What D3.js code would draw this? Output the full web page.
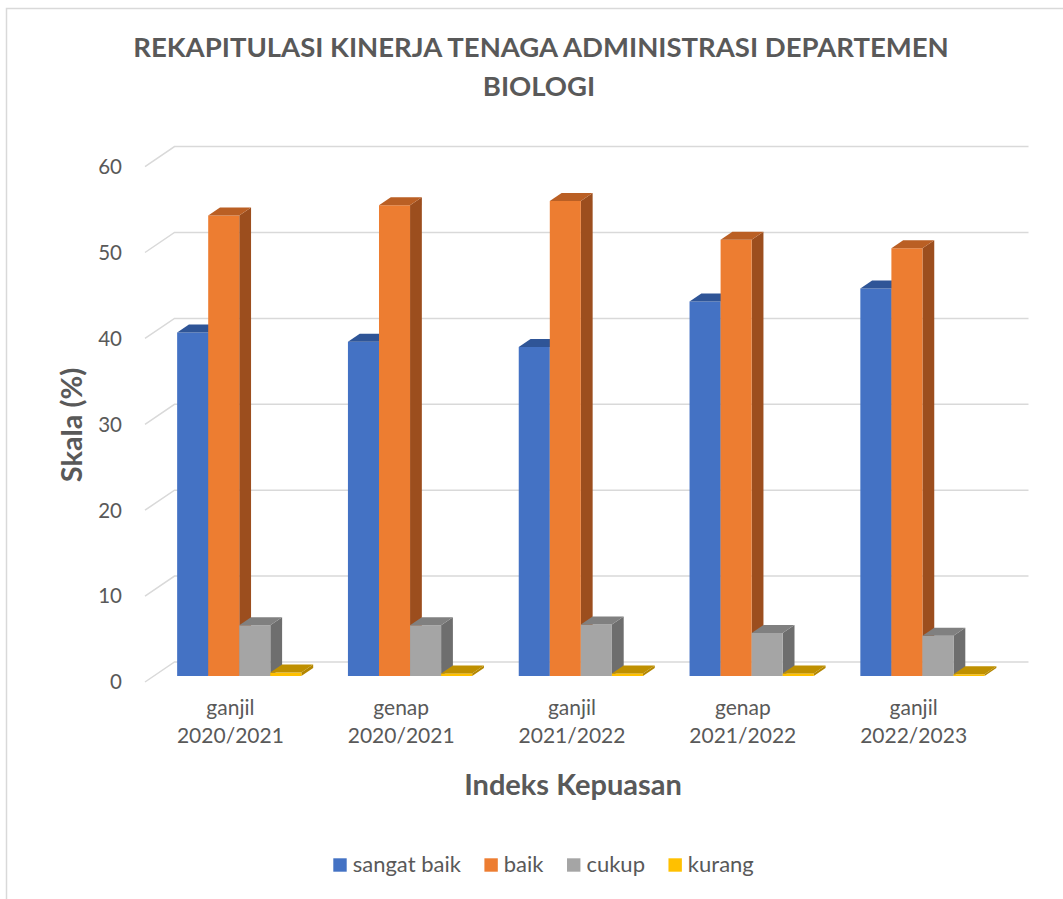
<!DOCTYPE html>
<html>
<head>
<meta charset="utf-8">
<title>Rekapitulasi Kinerja Tenaga Administrasi</title>
<script src="https://d3js.org/d3.v7.min.js"></script>
<style>
  body { margin: 0; background: #fff; }
  text { font-family: Lato, "Open Sans", sans-serif; fill: #595959; }
</style>
</head>
<body>
<svg id="chart" width="1063" height="899"></svg>
<script>
// ---- data ----
var categories = ["ganjil 2020/2021", "genap 2020/2021", "ganjil 2021/2022", "genap 2021/2022", "ganjil 2022/2023"];
var seriesNames = ["sangat baik", "baik", "cukup", "kurang"];
var sangatBaik = [40.0, 38.9, 38.3, 43.6, 45.1];
var baik = [53.6, 54.8, 55.3, 50.8, 49.8];
var cukup = [5.9, 5.9, 6.0, 5.0, 4.7];
var kurang = [0.4, 0.3, 0.3, 0.3, 0.2];
var yTicks = [0, 10, 20, 30, 40, 50, 60];

var values = [sangatBaik, baik, cukup, kurang];
var colors = ["#4472C4", "#ED7D31", "#A5A5A5", "#FFC000"];
var topColors = ["#2F5597", "#BA5F24", "#808080", "#BF9000"];
var sideColors = ["#2E4F8A", "#9C4E1E", "#6E6E6E", "#B38600"];

var svg = d3.select("#chart");

// chart border (runs off the right/bottom edge like the source)
svg.append("rect")
  .attr("x", 6.5).attr("y", 8.5)
  .attr("width", 1200).attr("height", 1000)
  .attr("fill", "#fff")
  .attr("stroke", "#d9d9d9").attr("stroke-width", 1.5);

// 3D projection: depth goes up and to the right
var depthX = 29.5, depthY = -20;
var zFront = 0.3, zBack = 0.7;

var x = d3.scaleBand().domain(categories).range([145, 999]).padding(0);
var bw = x.bandwidth() / 5.5; // gap width 150%
var xs = d3.scaleBand().domain(seriesNames)
  .range([0.75 * bw, x.bandwidth() - 0.75 * bw]).padding(0);
var y = d3.scaleLinear().domain([0, 60]).range([682, 166.6]);

function P(px, v, z) {
  return [px + z * depthX, y(v) + z * depthY];
}

// grid: back wall lines + left wall diagonals
var grid = svg.append("g");
yTicks.forEach(function(t) {
  var f = P(145, t, 0), b = P(145, t, 1), r = P(999, t, 1);
  grid.append("path")
    .attr("d", "M" + f + "L" + b + "L" + r)
    .attr("fill", "none")
    .attr("stroke", "#d9d9d9")
    .attr("stroke-width", 1.5);
  svg.append("text")
    .attr("x", 122).attr("y", y(t))
    .attr("dy", "0.36em")
    .attr("text-anchor", "end")
    .style("font-size", "20.5px")
    .text(t);
});

// bars
var bars = svg.append("g");
categories.forEach(function(c, ci) {
  seriesNames.forEach(function(s, si) {
    var v = values[si][ci];
    var x0 = x(c) + xs(s), x1 = x0 + xs.bandwidth();
    var side = [P(x1, 0, zFront), P(x1, 0, zBack), P(x1, v, zBack), P(x1, v, zFront)];
    var front = [P(x0, 0, zFront), P(x1, 0, zFront), P(x1, v, zFront), P(x0, v, zFront)];
    var top = [P(x0, v, zFront), P(x1, v, zFront), P(x1, v, zBack), P(x0, v, zBack)];
    bars.append("polygon").attr("points", side.join(" ")).attr("fill", sideColors[si]);
    bars.append("polygon").attr("points", front.join(" ")).attr("fill", colors[si]);
    bars.append("polygon").attr("points", top.join(" ")).attr("fill", topColors[si]);
  });
});

// category labels (two lines)
categories.forEach(function(c) {
  var parts = c.split(" ");
  var t = svg.append("text")
    .attr("text-anchor", "middle")
    .style("font-size", "21px");
  t.append("tspan").attr("x", x(c) + x.bandwidth() / 2).attr("y", 715).text(parts[0]);
  t.append("tspan").attr("x", x(c) + x.bandwidth() / 2).attr("y", 743).text(parts[1]);
});

// titles
svg.append("text")
  .attr("x", 541).attr("y", 57)
  .attr("text-anchor", "middle")
  .style("font-size", "27.5px").style("font-weight", "bold")
  .text("REKAPITULASI KINERJA TENAGA ADMINISTRASI DEPARTEMEN");
svg.append("text")
  .attr("x", 539).attr("y", 96)
  .attr("text-anchor", "middle")
  .style("font-size", "27.5px").style("font-weight", "bold")
  .text("BIOLOGI");

svg.append("text")
  .attr("x", 573).attr("y", 795)
  .attr("text-anchor", "middle")
  .style("font-size", "29px").style("font-weight", "bold")
  .text("Indeks Kepuasan");

svg.append("text")
  .attr("transform", "translate(82,425) rotate(-90)")
  .attr("text-anchor", "middle")
  .style("font-size", "29px").style("font-weight", "bold")
  .text("Skala (%)");

// legend
var legend = svg.append("g");
var lx = 333.3;
seriesNames.forEach(function(s, i) {
  legend.append("rect")
    .attr("x", lx).attr("y", 858.3)
    .attr("width", 13.4).attr("height", 13.4)
    .attr("fill", colors[i]);
  var t = legend.append("text")
    .attr("x", lx + 19.4).attr("y", 872)
    .style("font-size", "22px")
    .text(s);
  lx += 19.4 + t.node().getComputedTextLength() + 23.5;
});
</script>
</body>
</html>
